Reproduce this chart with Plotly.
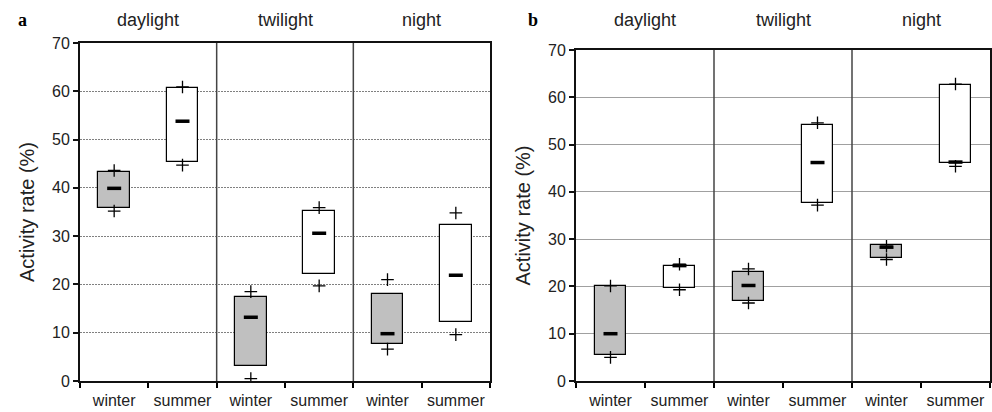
import plotly.graph_objects as go

periods = ["daylight", "twilight", "night"]
seasons = ["winter", "summer"]
tick_labels = ["winter", "summer", "winter", "summer", "winter", "summer"]

# Panel a
a_low = [35.9, 45.4, 3.1, 22.1, 7.7, 12.3]
a_high = [43.3, 60.6, 17.3, 35.3, 18.1, 32.4]
a_median = [39.9, 53.8, 13.2, 30.6, 9.8, 21.9]
a_min = [35.2, 44.7, 0.5, 19.7, 6.6, 9.6]
a_max = [43.6, 60.9, 18.5, 35.9, 21.0, 34.8]

# Panel b
b_low = [5.5, 19.7, 17.0, 37.7, 26.0, 46.0]
b_high = [20.0, 24.4, 23.0, 54.2, 28.7, 62.5]
b_median = [10.0, 24.4, 20.2, 46.2, 28.3, 46.3]
b_min = [5.0, 19.3, 16.5, 37.2, 25.7, 45.4]
b_max = [20.1, 24.7, 23.7, 54.6, 28.5, 62.8]

season_colors = {"winter": "#c0c0c0", "summer": "#ffffff"}

FONT = "Liberation Sans"
W, H = 992, 412


def px(x):
    return x / W


def py(y):
    return (H - y) / H


fig = go.Figure()

xpos = list(range(len(tick_labels)))
colors = [season_colors[s] for s in tick_labels]


def add_panel(low, high, med, mn, mx, xa, ya):
    fig.add_trace(go.Bar(
        x=xpos, y=[h - l for h, l in zip(high, low)], base=low,
        width=0.46, marker=dict(color=colors, line=dict(color="black", width=1.2)),
        xaxis=xa, yaxis=ya, showlegend=False, hoverinfo="skip"))
    fig.add_trace(go.Scatter(
        x=xpos, y=med, mode="markers",
        marker=dict(symbol="line-ew", size=10, line=dict(color="black", width=3.5)),
        xaxis=xa, yaxis=ya, showlegend=False))
    fig.add_trace(go.Scatter(
        x=xpos + xpos, y=mn + mx, mode="markers",
        marker=dict(symbol="cross-thin", size=9, line=dict(color="black", width=1.3)),
        xaxis=xa, yaxis=ya, showlegend=False))


add_panel(a_low, a_high, a_median, a_min, a_max, "x", "y")
add_panel(b_low, b_high, b_median, b_min, b_max, "x2", "y2")

boundaries = [i - 0.5 for i in range(len(tick_labels) + 1)]

dom_a = [px(80), px(490)]
dom_b = [px(576), px(990)]
ydom_a = [py(381), py(43)]
ydom_b = [py(381), py(50)]


def xaxis_cfg(domain, anchor):
    return dict(
        domain=domain, anchor=anchor, range=[-0.5, 5.5], automargin=False,
        tickmode="array", tickvals=xpos, ticktext=tick_labels,
        ticks="outside", ticklen=4, tickcolor="rgba(0,0,0,0)",
        minor=dict(tickmode="array", tickvals=boundaries, ticks="outside",
                   ticklen=5, tickcolor="black", tickwidth=2, showgrid=False),
        showline=True, linecolor="#111", linewidth=2, mirror=True,
        showgrid=False, zeroline=False,
        tickfont=dict(family=FONT, size=16, color="#222"))


def yaxis_cfg(domain, anchor, griddash, gridcolor):
    return dict(
        domain=domain, anchor=anchor, range=[0, 70], dtick=10, automargin=False,
        ticks="outside", ticklen=5, tickwidth=1.5, tickcolor="#111",
        showline=True, linecolor="#111", linewidth=2, mirror=True,
        showgrid=True, gridcolor=gridcolor, griddash=griddash, gridwidth=1,
        zeroline=False,
        tickfont=dict(family=FONT, size=16, color="#222"),
        title=dict(text="Activity rate (%)", standoff=12,
                   font=dict(family=FONT, size=20, color="#222")))


fig.update_layout(
    width=W, height=H, autosize=False,
    margin=dict(l=0, r=0, t=0, b=0, pad=0, autoexpand=False),
    paper_bgcolor="white", plot_bgcolor="white",
    bargap=0,
    xaxis=xaxis_cfg(dom_a, "y"),
    yaxis=yaxis_cfg(ydom_a, "x", "2px,1px", "#808080"),
    xaxis2=xaxis_cfg(dom_b, "y2"),
    yaxis2=yaxis_cfg(ydom_b, "x2", "solid", "#a0a0a0"),
)

# group separators and titles
for xa, ya in (("x", "y"), ("x2", "y2")):
    for g in range(1, len(periods)):
        fig.add_shape(type="line", xref=xa, yref=f"{ya} domain",
                      x0=g * 2 - 0.5, x1=g * 2 - 0.5, y0=0, y1=1,
                      line=dict(color="#444", width=1.5))
    for g, p in enumerate(periods):
        fig.add_annotation(text=p, xref=xa, yref="paper", x=g * 2 + 0.5,
                           y=py(20), showarrow=False, xanchor="center",
                           yanchor="middle",
                           font=dict(family=FONT, size=18, color="#222"))

fig.add_annotation(text="<b>a</b>", xref="paper", yref="paper", x=px(22),
                   y=py(20), showarrow=False, xanchor="center", yanchor="middle",
                   font=dict(family="Liberation Serif", size=18, color="black"))
fig.add_annotation(text="<b>b</b>", xref="paper", yref="paper", x=px(533),
                   y=py(20), showarrow=False, xanchor="center", yanchor="middle",
                   font=dict(family="Liberation Serif", size=18, color="black"))

post = (
    "document.documentElement.style.margin='0';"
    "document.documentElement.style.overflow='hidden';"
    "document.body.style.margin='0';"
    "document.body.style.overflow='hidden';"
    "var d=document.querySelector('.plotly-graph-div');"
    "d.style.position='fixed';d.style.top='0px';d.style.left='0px';"
)

fig.write_html("out.html", config={"displayModeBar": False}, post_script=post)
